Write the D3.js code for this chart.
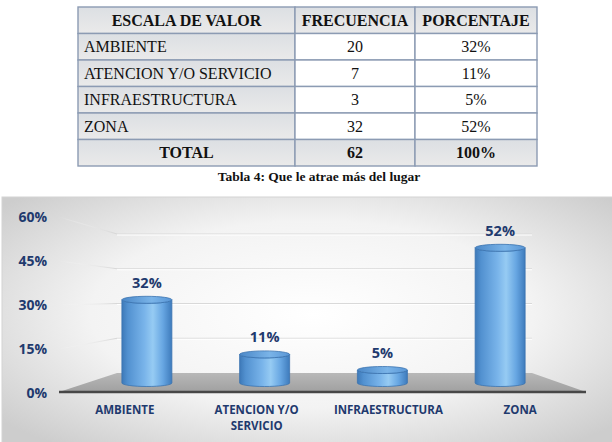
<!DOCTYPE html>
<html>
<head>
<meta charset="utf-8">
<script src="https://cdn.jsdelivr.net/npm/d3@7"></script>
<style>
  html, body { margin: 0; padding: 0; background: #fff; }
  svg { display: block; }
</style>
</head>
<body>
<svg id="chart" width="612" height="442"></svg>
<script>
// table + chart data
const categories = ['AMBIENTE', 'ATENCION Y/O SERVICIO', 'INFRAESTRUCTURA', 'ZONA'];
const axisLabels = [['AMBIENTE'], ['ATENCION Y/O', 'SERVICIO'], ['INFRAESTRUCTURA'], ['ZONA']];
const frecuencia = [20, 7, 3, 32];
const porcentaje = [0.32, 0.11, 0.05, 0.52];
const headers = ['ESCALA DE VALOR', 'FRECUENCIA', 'PORCENTAJE'];
const totalRow = ['TOTAL', '62', '100%'];
const yTicks = [0, 0.15, 0.30, 0.45, 0.60];
const caption = 'Tabla 4: Que le atrae más del lugar';

const svg = d3.select('#chart');
const defs = svg.append('defs');
const pct = d3.format('.0%');
const navy = '#1f3a6e';

// ---------- table ----------
const colX = d3.scaleOrdinal().domain([0, 1, 2, 3]).range([78, 295, 415, 537]);
const rowY = d3.scaleLinear().domain([0, 6]).range([7, 166]);

const cellGrad = defs.append('linearGradient').attr('id', 'cellGrad')
  .attr('x1', 0).attr('y1', 0).attr('x2', 0).attr('y2', 1);
cellGrad.append('stop').attr('offset', '0%').attr('stop-color', '#dcdfe3');
cellGrad.append('stop').attr('offset', '100%').attr('stop-color', '#eaeaea');

const rows = [headers]
  .concat(categories.map((c, i) => [c, String(frecuencia[i]), pct(porcentaje[i])]))
  .concat([totalRow]);

const table = svg.append('g').attr('class', 'table');
rows.forEach((row, r) => {
  row.forEach((txt, c) => {
    const x0 = colX(c), x1 = colX(c + 1);
    const y0 = rowY(r), y1 = rowY(r + 1);
    const gray = r === 0 || r === rows.length - 1 || c === 0;
    table.append('rect')
      .attr('x', x0).attr('y', y0)
      .attr('width', x1 - x0).attr('height', y1 - y0)
      .attr('fill', gray ? 'url(#cellGrad)' : '#fff')
      .attr('stroke', '#8c9bb3').attr('stroke-width', 1.4);
    const bold = r === 0 || r === rows.length - 1;
    const left = c === 0 && !bold;
    table.append('text')
      .attr('x', left ? x0 + 6 : (x0 + x1) / 2)
      .attr('y', (y0 + y1) / 2 + 5.5)
      .attr('text-anchor', left ? 'start' : 'middle')
      .attr('font-family', '"Liberation Serif", "Times New Roman", serif')
      .attr('font-size', 16)
      .attr('font-weight', bold ? 'bold' : 'normal')
      .attr('fill', '#111')
      .text(txt);
  });
});

svg.append('text')
  .attr('x', 319).attr('y', 181)
  .attr('text-anchor', 'middle')
  .attr('font-family', '"Liberation Serif", "Times New Roman", serif')
  .attr('font-size', 13.5).attr('font-weight', 'bold')
  .attr('fill', '#111')
  .text(caption);

// ---------- chart ----------
const bg = defs.append('radialGradient').attr('id', 'bgGrad')
  .attr('cx', '50%').attr('cy', '45%').attr('r', '65%');
bg.append('stop').attr('offset', '0%').attr('stop-color', '#ffffff');
bg.append('stop').attr('offset', '55%').attr('stop-color', '#f3f3f3');
bg.append('stop').attr('offset', '100%').attr('stop-color', '#cdcdcd');

svg.append('rect')
  .attr('x', 2).attr('y', 197).attr('width', 620).attr('height', 260)
  .attr('fill', 'url(#bgGrad)')
  .attr('stroke', '#d4d4d4').attr('stroke-width', 1);

// three depth planes: front (axis labels), middle (cylinders), back (wall)
const yFront = d3.scaleLinear().domain([0, 0.6]).range([393, 217]);
const yMid = d3.scaleLinear().domain([0, 0.6]).range([383, 227]);
const yBack = d3.scaleLinear().domain([0, 0.6]).range([373, 234]);
const xFront = d3.scaleBand().domain(categories).range([59, 586]);
const xMid = d3.scaleBand().domain(categories).range([88, 559]);
const xBack = d3.scaleBand().domain(categories).range([117, 532]);

// side wall fading lines
const sideGrad = defs.append('linearGradient').attr('id', 'sideGrad')
  .attr('gradientUnits', 'userSpaceOnUse')
  .attr('x1', xFront.range()[0]).attr('x2', xBack.range()[0]).attr('y1', 0).attr('y2', 0);
sideGrad.append('stop').attr('offset', '0%').attr('stop-color', '#ffffff').attr('stop-opacity', 0);
sideGrad.append('stop').attr('offset', '100%').attr('stop-color', '#d6d6d6').attr('stop-opacity', 1);

const grid = svg.append('g').attr('class', 'grid');
yTicks.filter(t => t > 0).forEach(t => {
  grid.append('path')
    .attr('d', `M${xFront.range()[0]},${yFront(t)} L${xBack.range()[0]},${yBack(t)}`)
    .attr('stroke', 'url(#sideGrad)').attr('stroke-width', 1.2).attr('fill', 'none');
  grid.append('line')
    .attr('x1', xBack.range()[0]).attr('x2', xBack.range()[1])
    .attr('y1', yBack(t)).attr('y2', yBack(t))
    .attr('stroke', '#d9d9d9').attr('stroke-width', 1.2);
  grid.append('line')
    .attr('x1', xBack.range()[0]).attr('x2', xBack.range()[1])
    .attr('y1', yBack(t) + 1).attr('y2', yBack(t) + 1)
    .attr('stroke', '#ffffff').attr('stroke-width', 1);
});

// floor
const floorGrad = defs.append('linearGradient').attr('id', 'floorGrad')
  .attr('x1', 0).attr('y1', 0).attr('x2', 0).attr('y2', 1);
floorGrad.append('stop').attr('offset', '0%').attr('stop-color', '#b8b8b8');
floorGrad.append('stop').attr('offset', '100%').attr('stop-color', '#a0a0a0');

const floorPts = [
  [xBack.range()[0], yBack(0)], [xBack.range()[1], yBack(0)],
  [xFront.range()[1], yFront(0) - 1], [xFront.range()[0], yFront(0) - 1]
];
svg.append('path')
  .attr('d', d3.line()(floorPts) + 'Z')
  .attr('fill', 'url(#floorGrad)');
svg.append('line')
  .attr('x1', xFront.range()[0]).attr('x2', xFront.range()[1])
  .attr('y1', yFront(0) - 1).attr('y2', yFront(0) - 1)
  .attr('stroke', '#474747').attr('stroke-width', 2.5);

// cylinders
const bodyGrad = defs.append('linearGradient').attr('id', 'bodyGrad')
  .attr('x1', 0).attr('y1', 0).attr('x2', 1).attr('y2', 0);
[['0%', '#3d79b8'], ['12%', '#5291d0'], ['45%', '#79b4ea'], ['62%', '#96cbf3'],
 ['82%', '#67a6e2'], ['100%', '#3e7bbc']].forEach(([o, c]) =>
  bodyGrad.append('stop').attr('offset', o).attr('stop-color', c));
const topGrad = defs.append('linearGradient').attr('id', 'topGrad')
  .attr('x1', 0).attr('y1', 0).attr('x2', 1).attr('y2', 0);
[['0%', '#4b88c8'], ['60%', '#7ab4e8'], ['100%', '#5996d6']].forEach(([o, c]) =>
  topGrad.append('stop').attr('offset', o).attr('stop-color', c));

const rx = 25, ry = 3.5;
const bars = svg.append('g').attr('class', 'bars')
  .selectAll('g').data(categories).join('g');

bars.append('path')
  .attr('d', (d, i) => {
    const cx = xMid(d) + xMid.bandwidth() / 2;
    const yt = yMid(porcentaje[i]), yb = yMid(0);
    return `M${cx - rx},${yt} L${cx - rx},${yb} A${rx},${ry} 0 0 0 ${cx + rx},${yb} ` +
      `L${cx + rx},${yt} A${rx},${ry} 0 0 1 ${cx - rx},${yt} Z`;
  })
  .attr('fill', 'url(#bodyGrad)')
  .attr('stroke', '#3b74b0').attr('stroke-width', 0.8);

bars.append('ellipse')
  .attr('cx', d => xMid(d) + xMid.bandwidth() / 2)
  .attr('cy', (d, i) => yMid(porcentaje[i]))
  .attr('rx', rx).attr('ry', ry)
  .attr('fill', 'url(#topGrad)')
  .attr('stroke', '#3b74b0').attr('stroke-width', 0.8);

bars.append('text')
  .attr('x', d => xMid(d) + xMid.bandwidth() / 2)
  .attr('y', (d, i) => yMid(porcentaje[i]) - ry - 8.5)
  .attr('text-anchor', 'middle')
  .attr('font-family', '"Open Sans", sans-serif')
  .attr('font-size', 14.5).attr('font-weight', 'bold')
  .attr('fill', navy)
  .text((d, i) => pct(porcentaje[i]));

// y axis labels
svg.append('g').selectAll('text').data(yTicks).join('text')
  .attr('x', 47).attr('y', d => yFront(d) + 5)
  .attr('text-anchor', 'end')
  .attr('font-family', '"Open Sans", sans-serif')
  .attr('font-size', 14).attr('font-weight', 'bold')
  .attr('fill', navy)
  .text(d => pct(d));

// category labels
svg.append('g').selectAll('text').data(categories).join('text')
  .attr('x', d => xFront(d) + xFront.bandwidth() / 2)
  .attr('y', 414)
  .attr('text-anchor', 'middle')
  .attr('font-family', '"Open Sans", sans-serif')
  .attr('font-size', 11.5).attr('font-weight', 'bold')
  .attr('fill', navy)
  .each(function (d, i) {
    d3.select(this).selectAll('tspan').data(axisLabels[i]).join('tspan')
      .attr('x', xFront(d) + xFront.bandwidth() / 2)
      .attr('dy', (t, j) => j === 0 ? 0 : 16)
      .text(t => t);
  });
</script>
</body>
</html>
